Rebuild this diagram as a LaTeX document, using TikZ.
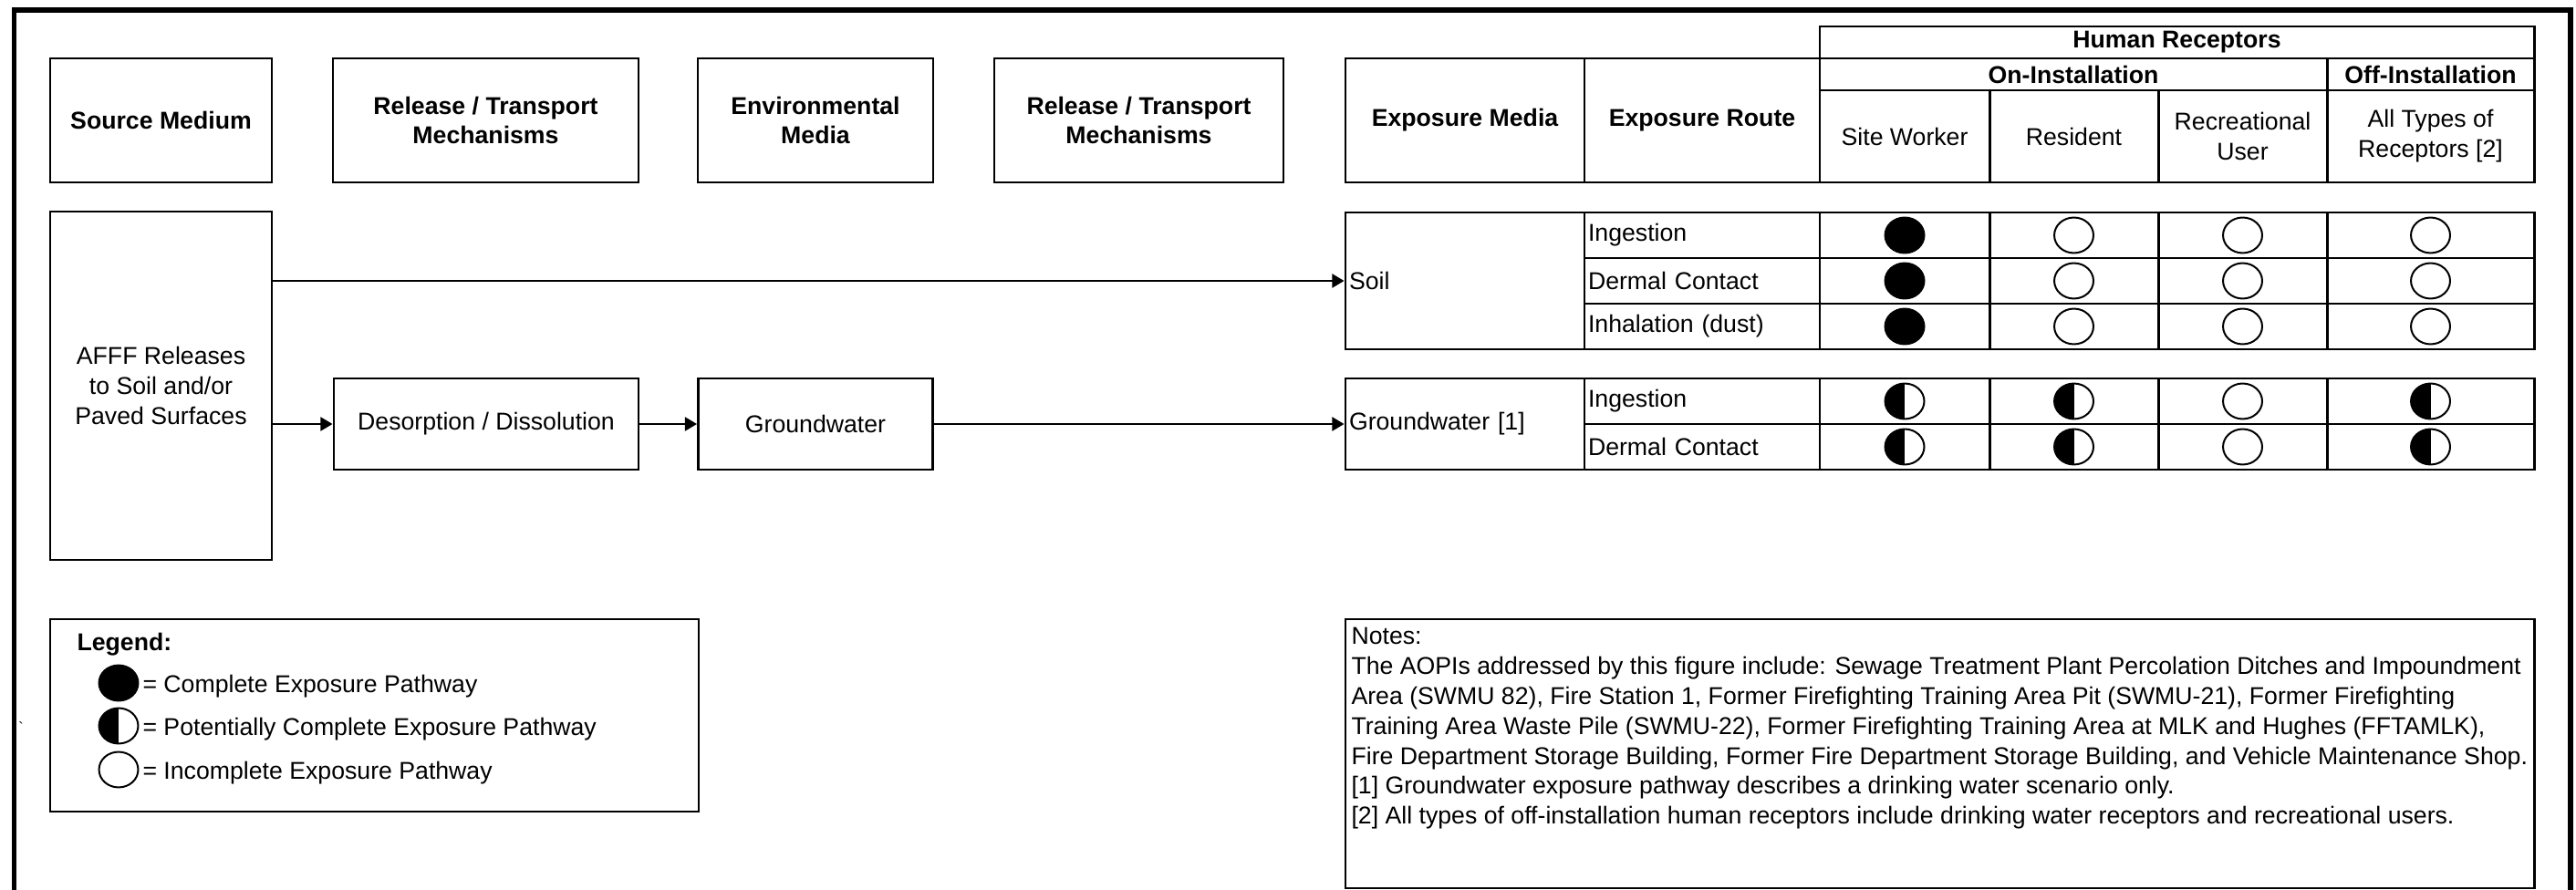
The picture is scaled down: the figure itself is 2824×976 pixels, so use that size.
\documentclass[tikz,border=0pt]{standalone}
\usepackage{fontspec}
\setmainfont{Liberation Sans}
\usetikzlibrary{arrows.meta,shapes.geometric}

\newcommand{\csmtext}{\fontsize{10}{12.3}\selectfont}

\tikzset{
  box/.style 2 args={draw, line width=1.1pt, inner sep=0pt, align=center,
    minimum width=#1*0.375pt, minimum height=#2*0.375pt, font=\csmtext},
  head/.style 2 args={box={#1}{#2}, font=\csmtext\bfseries},
  lcell/.style 2 args={draw, line width=1.1pt, inner ysep=0pt, inner xsep=1.5pt,
    text width=#1*0.375pt-3pt, minimum height=#2*0.375pt, align=left, font=\csmtext},
  dotfull/.style={ellipse, draw, line width=0.75pt, fill=black, inner sep=0pt,
    minimum width=16.1pt, minimum height=14.6pt},
  dotnone/.style={dotfull, fill=white},
  dothalf/.style={dotnone, path picture={\fill[black] (path picture bounding box.north west) rectangle (path picture bounding box.south);}},
  pathway/.style={-{Triangle[length=4.9pt,width=5.6pt]}, line width=0.8pt},
}

\begin{document}
\begin{tikzpicture}[x=0.375pt, y=-0.375pt]
    \useasboundingbox (0,0) rectangle (2824,976);
    \clip (0,0) rectangle (2824,976);
    \draw[line width=2.1pt] (15.5,11) rectangle (2818,1020);

    \node[head={243}{136}] (src) at (176.5,132) {Source Medium};
    \node[head={335}{136}] (rel1) at (532.5,132) {Release / Transport\\Mechanisms};
    \node[head={258}{136}] (envm) at (894,132) {Environmental\\Media};
    \node[head={317}{136}] (rel2) at (1248.5,132) {Release / Transport\\Mechanisms};
    \node[head={262}{136}] (hdmedia) at (1606,132) {Exposure Media};
    \node[head={258}{136}] (hdroute) at (1866,132) {Exposure Route};
    \node[head={783}{35}] (hdhuman) at (2386.5,46.5) {Human Receptors};
    \node[head={556}{35}] (hdon) at (2273,81.5) {On-Installation};
    \node[head={227}{35}] (hdoff) at (2664.5,81.5) {Off-Installation};
    \node[box={186}{101}] (hdsw) at (2088,149.5) {Site Worker};
    \node[box={185}{101}] (hdres) at (2273.5,149.5) {Resident};
    \node[box={185}{101}] (hdrec) at (2458.5,149.5) {Recreational\\User};
    \node[box={227}{101}] (hdall) at (2664.5,149.5) {All Types of\\Receptors [2]};

    \node[box={243}{382}] (afff) at (176.5,423) {AFFF Releases\\to Soil and/or\\Paved Surfaces};
    \node[box={334}{100}] (desorp) at (533,465) {Desorption / Dissolution};
    \node[box={257}{100}] (gwbox) at (894,465) {Groundwater};

    \node[lcell={262}{150}] (soil) at (1606,308) {Soil};
    \node[lcell={262}{100}] (gwmed) at (1606,465) {Groundwater [1]};
    \foreach \n/\y/\t in {ing1/258/Ingestion, derm1/308/Dermal Contact, inh1/358/Inhalation (dust), ing2/440/Ingestion, derm2/490/Dermal Contact}
        \node[lcell={258}{50}] (\n) at (1866,\y) {\t};

    \foreach \r/\y/\a/\b/\c/\d in {1/258/dotfull/dotnone/dotnone/dotnone, 2/308/dotfull/dotnone/dotnone/dotnone, 3/358/dotfull/dotnone/dotnone/dotnone, 4/440/dothalf/dothalf/dotnone/dothalf, 5/490/dothalf/dothalf/dotnone/dothalf}{
        \node[box={186}{50}] (sw\r) at (2088,\y) {};
        \node[box={185}{50}] (res\r) at (2273.5,\y) {};
        \node[box={185}{50}] (rec\r) at (2458.5,\y) {};
        \node[box={227}{50}] (all\r) at (2664.5,\y) {};
        \node[\a] (dsw\r) at (sw\r) {};
        \node[\b] (dres\r) at (res\r) {};
        \node[\c] (drec\r) at (rec\r) {};
        \node[\d] (dall\r) at (all\r) {};
    }

    \draw[pathway] (afff.east |- soil.west) -- (soil.west);
    \draw[pathway] (afff.east |- desorp.west) -- (desorp.west);
    \draw[pathway] (desorp) -- (gwbox);
    \draw[pathway] (gwbox) -- (gwmed);

    \node[box={711}{211}] (legend) at (410.5,784.5) {};
    \node[anchor=base west, inner sep=0pt, font=\csmtext\bfseries] (lgtitle) at (84,713) {Legend:};
    \foreach \n/\y/\s/\t in {1/749/dotfull/Complete Exposure Pathway, 2/796/dothalf/Potentially Complete Exposure Pathway, 3/844/dotnone/Incomplete Exposure Pathway}{
        \node[\s] (lgdot\n) at (130,\y) {};
        \node[anchor=base west, inner sep=0pt, font=\csmtext] (lgtxt\n) at (156,\y+10) {= \t};
    }
    \node[inner sep=0pt, font=\fontsize{6}{7}\selectfont] (tick) at (23,798) {\textasciigrave};

    \node[box={1303}{295}] (notesbox) at (2126.5,826.5) {};
    \node[anchor=north west, align=left, inner sep=0pt, font=\csmtext] (notes) at (1481,688) {Notes:\\The AOPIs addressed by this figure include: Sewage Treatment Plant Percolation Ditches and Impoundment\\Area (SWMU 82), Fire Station 1, Former Firefighting Training Area Pit (SWMU-21), Former Firefighting\\Training Area Waste Pile (SWMU-22), Former Firefighting Training Area at MLK and Hughes (FFTAMLK),\\Fire Department Storage Building, Former Fire Department Storage Building, and Vehicle Maintenance Shop.\\{[1]} Groundwater exposure pathway describes a drinking water scenario only.\\{[2]} All types of off-installation human receptors include drinking water receptors and recreational users.};
\end{tikzpicture}
\end{document}
